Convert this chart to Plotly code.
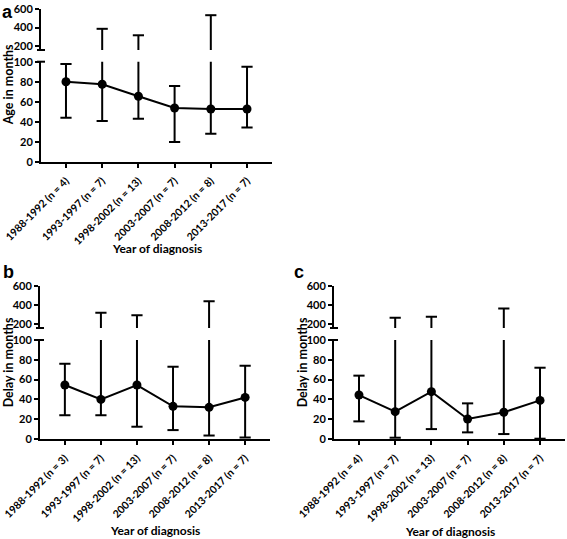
import plotly.graph_objects as go

W, H = 567, 539

categories = ["1988-1992 (n = 4)", "1993-1997 (n = 7)", "1998-2002 (n = 13)",
              "2003-2007 (n = 7)", "2008-2012 (n = 8)", "2013-2017 (n = 7)"]
categories_b = ["1988-1992 (n = 3)", "1993-1997 (n = 7)", "1998-2002 (n = 13)",
                "2003-2007 (n = 7)", "2008-2012 (n = 8)", "2013-2017 (n = 7)"]

# Panel a: age in months
a_mid = [80, 77.5, 65.5, 53.7, 52.7, 52.7]
a_low = [44, 40.6, 43, 19.8, 27.9, 34.2]
a_high = [97.7, 386, 316, 75.8, 533, 95]

# Panel b: delay in months
b_mid = [54.5, 40, 54.5, 33, 32, 42]
b_low = [24, 24, 12.4, 9, 3.5, 1.5]
b_high = [76, 317, 290, 73, 438, 74]

# Panel c: delay in months
c_mid = [44.4, 27.6, 47.8, 20.2, 27, 39]
c_low = [17.8, 1.3, 10, 6.7, 5, 0.3]
c_high = [64, 266, 276, 36, 362, 72]

FONT = "Lato"


def fx(px):
    return px / W


def fy(py):
    return 1 - py / H


fig = go.Figure()

panels = [
    dict(letter="a", cats=categories, mid=a_mid, low=a_low, high=a_high,
         x0=41, x1=272, lo=(161.7, 61.7), up=(50, 9), urange=[157, 600],
         ytitle="Age in months", ytx=8, lpos=(7, 0), lanchor="top", xty=249),
    dict(letter="b", cats=categories_b, mid=b_mid, low=b_low, high=b_high,
         x0=40, x1=270, lo=(439, 340), up=(328, 285.7), urange=[158, 600],
         ytitle="Delay in months", ytx=8, lpos=(8, 272), lanchor="middle", xty=530),
    dict(letter="c", cats=categories, mid=c_mid, low=c_low, high=c_high,
         x0=334, x1=565, lo=(439, 340), up=(328, 285.7), urange=[158, 600],
         ytitle="Delay in months", ytx=302, lpos=(299, 272), lanchor="middle", xty=531),
]

tickfont = dict(family=FONT, size=11, color="black", weight="bold")
xtickfont = dict(family=FONT, size=10.5, color="black", weight="bold")
shapes = []
annotations = []
layout = {}

for i, p in enumerate(panels):
    xn = "" if i == 0 else str(i + 1)
    ylo_n = str(2 * i + 1) if i > 0 else ""
    yup_n = str(2 * i + 2)
    xref = "x" + xn
    ylo_ref = "y" + ylo_n
    yup_ref = "y" + yup_n
    xs = list(range(len(p["cats"])))

    ex, ey = [], []
    for x, l, h in zip(xs, p["low"], p["high"]):
        ex += [x, x, None]
        ey += [l, h, None]
    capx = xs + xs
    capy = p["low"] + p["high"]
    for yref in (ylo_ref, yup_ref):
        fig.add_trace(go.Scatter(x=ex, y=ey, mode="lines",
                                 line=dict(color="black", width=2),
                                 xaxis=xref, yaxis=yref, showlegend=False,
                                 hoverinfo="skip"))
        fig.add_trace(go.Scatter(x=capx, y=capy, mode="markers",
                                 marker=dict(symbol="line-ew", size=8,
                                             line=dict(color="black", width=2)),
                                 xaxis=xref, yaxis=yref, showlegend=False,
                                 cliponaxis=True, hoverinfo="skip"))
    fig.add_trace(go.Scatter(x=xs, y=p["mid"], mode="lines+markers",
                             line=dict(color="black", width=2),
                             marker=dict(color="black", size=9),
                             xaxis=xref, yaxis=ylo_ref, showlegend=False))

    layout["xaxis" + xn] = dict(
        domain=[fx(p["x0"]), fx(p["x1"])], anchor=ylo_ref,
        range=[-0.69, 5.69], tickmode="array", tickvals=xs, ticktext=p["cats"],
        tickangle=-45, showline=True, linecolor="black", linewidth=2,
        ticks="outside", ticklen=4, tickwidth=1.5, tickcolor="black",
        showgrid=False, zeroline=False, tickfont=xtickfont, automargin=False,
        ticklabeloverflow="allow", ticklabelstandoff=3,
    )
    layout["yaxis" + ylo_n] = dict(
        domain=[fy(p["lo"][0]), fy(p["lo"][1])], anchor=xref,
        range=[0, 100], tickvals=[0, 20, 40, 60, 80, 100],
        showline=True, linecolor="black", linewidth=2,
        ticks="outside", ticklen=4, tickwidth=2, tickcolor="black",
        showgrid=False, zeroline=False, tickfont=tickfont, automargin=False,
        ticklabeloverflow="allow",
    )
    layout["yaxis" + yup_n] = dict(
        domain=[fy(p["up"][0]), fy(p["up"][1])], anchor=xref,
        range=p["urange"], tickvals=[200, 400, 600],
        showline=True, linecolor="black", linewidth=2,
        ticks="outside", ticklen=4, tickwidth=2, tickcolor="black",
        showgrid=False, zeroline=False, tickfont=tickfont, automargin=False,
        ticklabeloverflow="allow",
    )

    for py in (p["up"][0], p["lo"][1]):
        shapes.append(dict(type="line", xref="paper", yref="paper",
                           x0=fx(p["x0"] - 4), x1=fx(p["x0"] + 4),
                           y0=fy(py), y1=fy(py),
                           line=dict(color="black", width=2)))

    annotations.append(dict(text=p["ytitle"], xref="paper", yref="paper",
                            x=fx(p["ytx"]), y=fy((p["up"][1] + p["lo"][0]) / 2),
                            textangle=-90, showarrow=False,
                            xanchor="center", yanchor="middle",
                            font=dict(family=FONT, size=12.5, color="black",
                                      weight="bold")))
    annotations.append(dict(text="Year of diagnosis", xref="paper", yref="paper",
                            x=fx((p["x0"] + p["x1"]) / 2), y=fy(p["xty"]),
                            showarrow=False, xanchor="center", yanchor="middle",
                            font=dict(family=FONT, size=12, color="black",
                                      weight="bold")))
    annotations.append(dict(text=p["letter"], xref="paper", yref="paper",
                            x=fx(p["lpos"][0]), y=fy(p["lpos"][1]),
                            showarrow=False, xanchor="center",
                            yanchor=p["lanchor"],
                            font=dict(family="Liberation Sans", size=18,
                                      color="black", weight="bold")))

fig.update_layout(
    width=W, height=H, autosize=False,
    margin=dict(l=0, r=0, t=0, b=0),
    paper_bgcolor="white", plot_bgcolor="white",
    shapes=shapes, annotations=annotations,
    **layout,
)

fig.write_html("out.html",
               config={"displayModeBar": False},
               post_script="document.body.style.margin='0';"
                           "document.body.style.padding='0';"
                           "document.body.style.overflow='hidden';")
